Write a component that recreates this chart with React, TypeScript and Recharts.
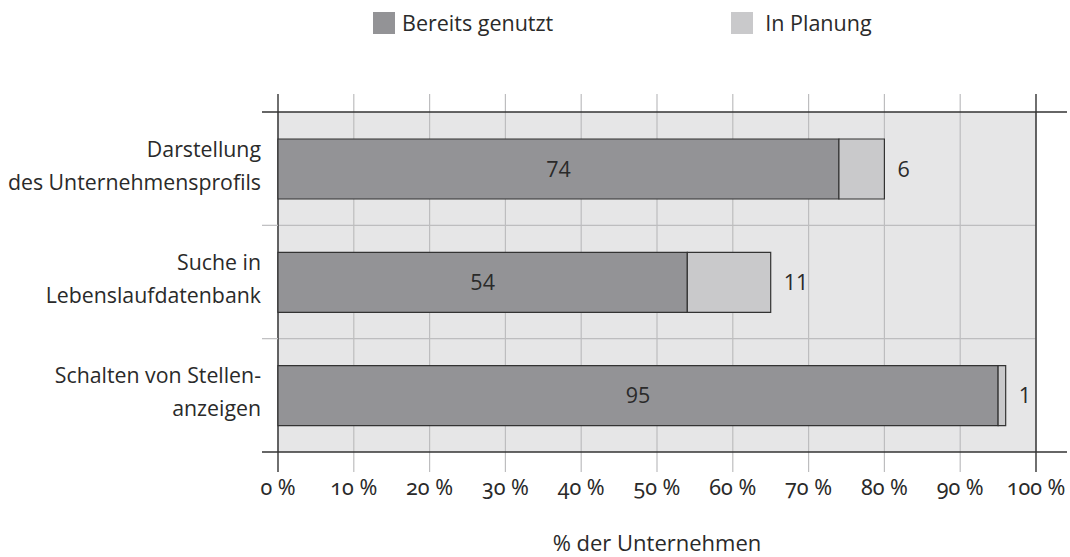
import React from 'react';
import {
  BarChart,
  Bar,
  XAxis,
  YAxis,
  CartesianGrid,
  ReferenceArea,
  LabelList,
  Legend,
} from 'recharts';

const categories = [
  'Darstellung\ndes Unternehmensprofils',
  'Suche in\nLebenslaufdatenbank',
  'Schalten von Stellen-\nanzeigen',
];
const usedValues = [74, 54, 95];
const plannedValues = [6, 11, 1];
const xTicks = [0, 10, 20, 30, 40, 50, 60, 70, 80, 90, 100];
const seriesNames = { used: 'Bereits genutzt', planned: 'In Planung' };
const axisTitle = '% der Unternehmen';

const data = categories.map((name, i) => ({
  name,
  used: usedValues[i],
  planned: plannedValues[i],
}));

const FONT = '"Open Sans", "Noto Sans", sans-serif';
const NUMFONT = '"Noto Sans", "Open Sans", sans-serif';
const WEIGHT = 400;
const TEXT = '#2a2a2a';
const DARK = '#333333';
const GRID = '#bdbdbf';
const USED = '#939396';
const PLANNED = '#c9c9cb';
const BG = '#e6e6e7';
const numStyle: React.CSSProperties = {
  fontVariantNumeric: 'oldstyle-nums',
  fontFeatureSettings: '"onum" 1',
};

const FIRST = xTicks[0];
const LAST = xTicks[xTicks.length - 1];
const isEdge = (v: number) => v === FIRST || v === LAST;

// Tick stubs above and below the plot, placed by the library (ReferenceArea edges)
const makeIntervalShape = (left: number, isLastInterval: boolean) => (p: any) => {
  const { x, y, width, height } = p;
  const stub = (xx: number, edge: boolean, key: string) =>
    edge ? (
      <line key={key} x1={xx} x2={xx} y1={y - 18} y2={y + height + 20} stroke={DARK} strokeWidth={1.4} />
    ) : (
      <g key={key}>
        <line x1={xx} x2={xx} y1={y - 18} y2={y} stroke={GRID} strokeWidth={1.2} />
        <line x1={xx} x2={xx} y1={y + height} y2={y + height + 20} stroke={GRID} strokeWidth={1.2} />
      </g>
    );
  return (
    <g>
      {stub(x, isEdge(left), 'l')}
      {isLastInterval && stub(x + width, true, 'r')}
    </g>
  );
};

const FrameShape = (p: any) => {
  const { x, y, width, height } = p;
  return (
    <g>
      <line x1={x - 16} x2={x + width + 31} y1={y} y2={y} stroke={DARK} strokeWidth={1.4} />
      <line x1={x - 16} x2={x + width + 31} y1={y + height} y2={y + height} stroke={DARK} strokeWidth={1.4} />
    </g>
  );
};

const BottomTick = (props: any) => {
  const { x, y, payload } = props;
  return (
    <text
      x={x}
      y={y + 43}
      textAnchor="middle"
      fill={TEXT}
      fontSize={21.5}
      fontWeight={WEIGHT}
      fontFamily={NUMFONT}
      style={numStyle}
    >
      {`${payload.value} %`}
    </text>
  );
};

const CategoryTick = (props: any) => {
  const { x, y, payload, index } = props;
  const lines = String(payload.value).split('\n');
  const half = typeof payload.offset === 'number' ? payload.offset : null;
  return (
    <g>
      {index > 0 && half !== null && (
        <line x1={x - 16} x2={x} y1={y - half} y2={y - half} stroke={GRID} strokeWidth={1.2} />
      )}
      <text textAnchor="end" fill={TEXT} fontSize={21.3} fontWeight={WEIGHT} fontFamily={FONT}>
        <tspan x={x - 17} y={y - 12}>{lines[0]}</tspan>
        {lines[1] && (
          <tspan x={x - 17} y={y + 21}>{lines[1]}</tspan>
        )}
      </text>
    </g>
  );
};

const LegendContent = () => (
  <div
    style={{
      height: 112,
      display: 'flex',
      alignItems: 'flex-start',
      fontFamily: FONT,
      fontWeight: WEIGHT,
      fontSize: 21.5,
      color: TEXT,
    }}
  >
    <div style={{ display: 'flex', alignItems: 'center', marginLeft: 373, marginTop: 12 }}>
      <span style={{ width: 22, height: 22, background: USED, display: 'inline-block' }} />
      <span style={{ marginLeft: 7, lineHeight: '22px' }}>{seriesNames.used}</span>
    </div>
    <div style={{ display: 'flex', alignItems: 'center', marginLeft: 178, marginTop: 12 }}>
      <span style={{ width: 22, height: 22, background: PLANNED, display: 'inline-block' }} />
      <span style={{ marginLeft: 12, lineHeight: '22px' }}>{seriesNames.planned}</span>
    </div>
  </div>
);

export default function App() {
  return (
    <div style={{ position: 'absolute', left: 0, top: 0, width: 1070, height: 557, background: '#fff', fontFamily: FONT }}>
      <BarChart
        width={1070}
        height={557}
        data={data}
        layout="vertical"
        margin={{ top: 0, right: 34, bottom: 0, left: 0 }}
        barSize={60}
        style={{ fontFamily: FONT }}
      >
        <Legend verticalAlign="top" align="left" content={<LegendContent />} />
        <CartesianGrid
          fill={BG}
          stroke={GRID}
          strokeWidth={1.2}
          vertical
          horizontal
          horizontalCoordinatesGenerator={(p: any) =>
            p && p.offset
              ? [1, 2].map((k) => p.offset.top + (p.offset.height * k) / categories.length)
              : []
          }
        />
        <XAxis
          type="number"
          domain={[FIRST, LAST]}
          ticks={xTicks}
          height={105}
          tickSize={0}
          tickMargin={0}
          tickLine={false}
          axisLine={false}
          tick={<BottomTick />}
          interval={0}
          label={{
            value: axisTitle,
            position: 'insideBottom',
            offset: 6,
            fill: TEXT,
            fontSize: 22,
            fontWeight: WEIGHT,
            fontFamily: FONT,
          }}
        />
        <YAxis
          type="category"
          dataKey="name"
          width={278}
          tickSize={0}
          tickMargin={0}
          tickLine={false}
          axisLine={false}
          tick={<CategoryTick />}
          interval={0}
        />
        <Bar dataKey="used" stackId="a" fill={USED} stroke={DARK} strokeWidth={1.2} isAnimationActive={false}>
          <LabelList
            dataKey="used"
            position="center"
            fill={TEXT}
            fontSize={21.5}
            fontWeight={WEIGHT}
            fontFamily={FONT}
          />
        </Bar>
        <Bar dataKey="planned" stackId="a" fill={PLANNED} stroke={DARK} strokeWidth={1.2} isAnimationActive={false}>
          <LabelList
            dataKey="planned"
            position="right"
            offset={13}
            fill={TEXT}
            fontSize={21.5}
            fontWeight={WEIGHT}
            fontFamily={FONT}
          />
        </Bar>
        {xTicks.slice(0, -1).map((t, i) => (
          <ReferenceArea
            key={t}
            x1={t}
            x2={xTicks[i + 1]}
            shape={makeIntervalShape(t, i === xTicks.length - 2)}
          />
        ))}
        <ReferenceArea x1={FIRST} x2={LAST} shape={FrameShape} />
      </BarChart>
    </div>
  );
}
